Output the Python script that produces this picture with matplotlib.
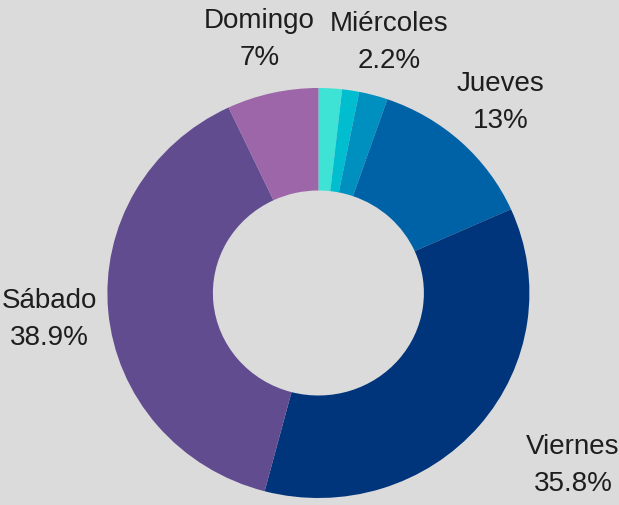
import numpy as np
import matplotlib
matplotlib.use('Agg')
from matplotlib import pyplot as plt

plt.rcParams['font.family'] = ['Liberation Sans', 'DejaVu Sans']

# datos
dias = ['Lunes', 'Martes', 'Miércoles', 'Jueves', 'Viernes', 'Sábado', 'Domingo']
porcentajes = [1.8, 1.3, 2.2, 13, 35.8, 38.9, 7]
etiquetas_pct = ['', '', '2.2%', '13%', '35.8%', '38.9%', '7%']
colores = ['#3ee3d6', '#00bdd0', '#0090c0', '#0062a6', '#00347b', '#624c90', '#9c66a8']

fig = plt.figure(figsize=(6.19, 5.06), dpi=100)
fig.patch.set_facecolor('#dbdbdb')
ax = fig.add_axes([0, 0, 1, 1])
ax.set_facecolor('#dbdbdb')

wedges, textos = ax.pie(porcentajes, colors=colores, startangle=90, counterclock=False,
                        radius=1, wedgeprops=dict(width=0.5, linewidth=0),
                        labels=[''] * len(dias), labeldistance=1.28)

for i, (w, t) in enumerate(zip(wedges, textos)):
    if etiquetas_pct[i] == '':
        continue
    x, y = t.get_position()
    if dias[i] == 'Viernes':
        x += 0.23
    ax.text(x, y - 0.01, dias[i] + '\n' + etiquetas_pct[i], ha='center', va='center',
            fontsize=20, color='#1e1e1e', linespacing=1.55)

# centro del anillo ~ (318, 294) px
ax.set_xlim(-318.4 / 211, 300.6 / 211)
ax.set_ylim(-212 / 205, 294 / 205)
ax.set_aspect('auto')
ax.axis('off')

plt.savefig('out.png', dpi=100, facecolor=fig.get_facecolor())
